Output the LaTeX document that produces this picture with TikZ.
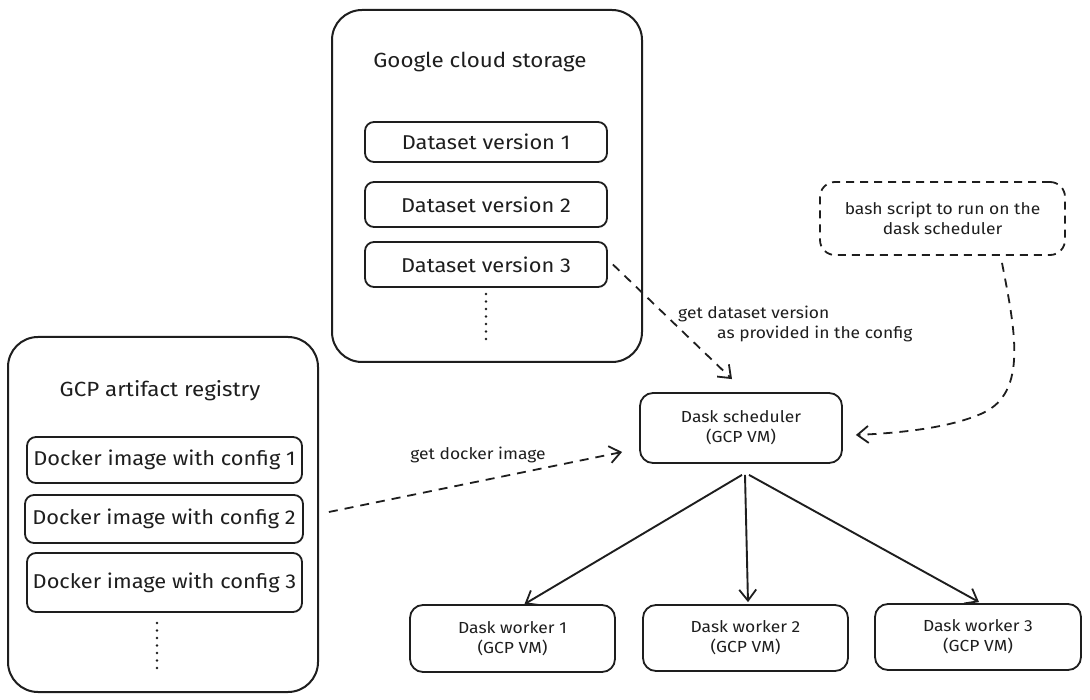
\documentclass[tikz,border=0pt]{standalone}
\usepackage{fontspec}
\setmainfont{Fira Sans}[FakeStretch=1.09]
\usetikzlibrary{arrows.meta}
\definecolor{ink}{HTML}{1E1E1E}
\tikzset{
  outerbox/.style={draw=ink, line width=2pt, rounded corners=30pt, inner sep=0pt},
  innerbox/.style={draw=ink, line width=1.8pt, rounded corners=9pt, inner sep=0pt, font=\fontsize{20}{23}\selectfont, text=ink},
  vmbox/.style={draw=ink, line width=1.8pt, rounded corners=13pt, inner sep=0pt, align=center, font=\fontsize{16}{20}\selectfont, text=ink},
  dashbox/.style={draw=ink, line width=1.8pt, rounded corners=15pt, dash pattern=on 8pt off 6pt, inner sep=0pt, align=center, font=\fontsize{16}{20}\selectfont, text=ink},
  titletext/.style={font=\fontsize{20.5}{23}\selectfont, text=ink, inner sep=0pt},
  labeltext/.style={font=\fontsize{16}{20}\selectfont, text=ink, inner sep=0pt},
  tip/.style={-{Straight Barb[length=11pt,width=17pt,line width=1.8pt]}},
  solidarrow/.style={draw=ink, line width=1.9pt, tip},
  dasharrow/.style={draw=ink, line width=1.8pt, dash pattern=on 9pt off 7pt, tip},
  dotline/.style={draw=ink, line width=2.6pt, line cap=round, dash pattern=on 0pt off 7.5pt},
}
\begin{document}
\begin{tikzpicture}[x=1pt, y=-1pt]
\useasboundingbox (0,0) rectangle (1090,700);
\fill[white] (0,0) rectangle (1090,700);

% Google cloud storage
\node[outerbox, minimum width=310pt, minimum height=352pt] (gcs) at (487,186) {};
\node[titletext] (gcstitle) at (480,62) {Google cloud storage};
\node[innerbox, minimum width=242pt, minimum height=40pt] (v1) at (486,142) {Dataset version 1};
\node[innerbox, minimum width=242pt, minimum height=45pt] (v2) at (486,204.5) {Dataset version 2};
\node[innerbox, minimum width=242pt, minimum height=45pt] (v3) at (486,264.5) {Dataset version 3};
\coordinate (gd1) at (486,294);
\coordinate (gd2) at (486,342);
\draw[dotline] (gd1) -- (gd2);

% GCP artifact registry
\node[outerbox, minimum width=310pt, minimum height=355pt] (gar) at (163,514.5) {};
\node[titletext] (gartitle) at (160,391) {GCP artifact registry};
\node[innerbox, minimum width=275pt, minimum height=46pt] (d1) at (164.5,460) {Docker image with config 1};
\node[innerbox, minimum width=278pt, minimum height=48pt] (d2) at (164,519) {Docker image with config 2};
\node[innerbox, minimum width=275pt, minimum height=59pt] (d3) at (164.5,582.5) {Docker image with config 3};
\coordinate (rd1) at (157,623);
\coordinate (rd2) at (157,673);
\draw[dotline] (rd1) -- (rd2);

% bash script
\node[dashbox, minimum width=245pt, minimum height=73pt] (bash) at (942.5,218.5) {bash script to run on the\\dask scheduler};

% scheduler and workers
\node[vmbox, minimum width=202pt, minimum height=70pt] (sched) at (741,428) {Dask scheduler\\(GCP VM)};
\node[vmbox, minimum width=205pt, minimum height=67pt] (w1) at (512.5,638.5) {Dask worker 1\\(GCP VM)};
\node[vmbox, minimum width=205pt, minimum height=66pt] (w2) at (745.5,638) {Dask worker 2\\(GCP VM)};
\node[vmbox, minimum width=206pt, minimum height=66pt] (w3) at (978,637) {Dask worker 3\\(GCP VM)};

% dashed arrows
\draw[dasharrow] ([xshift=5pt]v3.east) -- ([shift={(-9,-13)}]sched.north);
\node[labeltext, anchor=west] (lab1) at (678,314) {get dataset version};
\node[labeltext, anchor=west] (lab2) at (717,334) {as provided in the config};

\draw[dasharrow] ([shift={(25,-7)}]d2.east) -- ([shift={(-17,24)}]sched.west);
\node[labeltext] (lab3) at (478,455) {get docker image};

\draw[dasharrow] ([shift={(59.5,7)}]bash.south) .. controls (1015,330) and (1028,392) .. (983,413)
  .. controls (950,428) and (900,433) .. ([shift={(13,7)}]sched.east);

% solid arrows
\draw[solidarrow] ([shift={(1,11)}]sched.south) -- ([xshift=12pt]w1.north);
\draw[solidarrow] ([shift={(4,11)}]sched.south) -- ([shift={(2.5,-2)}]w2.north);
\draw[solidarrow] ([shift={(8,11)}]sched.south) -- ([shift={(1,-1)}]w3.north);
\end{tikzpicture}
\end{document}
